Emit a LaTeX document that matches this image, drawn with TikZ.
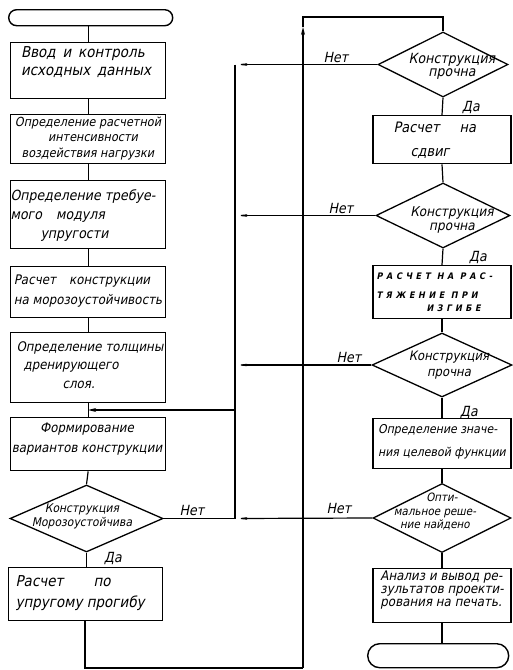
\documentclass[tikz,border=0pt]{standalone}
\usepackage{fontspec}
\setmainfont{DejaVu Sans}[FakeStretch=0.9,FakeSlant=0.2]
\usetikzlibrary{shapes.geometric,arrows.meta}
\newcommand{\fsz}[2]{\fontsize{#1}{#2}\selectfont}
\begin{document}
\begin{tikzpicture}[x=1pt,y=-1pt,line width=1.2pt,
  box/.style={draw,line width=1.3pt,inner sep=0pt,anchor=north west},
  rbox/.style={draw,line width=1.3pt,inner sep=0pt,anchor=north,minimum width=138pt},
  dia/.style={draw,diamond,line width=1.3pt,inner sep=0pt},
  term/.style={draw,line width=1.4pt,inner sep=0pt,anchor=north west},
  txt/.style={inner sep=0pt},
  lab/.style={inner sep=0pt,font=\fsz{14}{14}},
  arr/.style={-{Stealth[length=18pt,width=3.6pt]}},
  arrs/.style={-{Stealth[length=8pt,width=4pt]}}]
\useasboundingbox (0,0) rectangle (512,670);
% left column
\node[term,minimum width=164pt,minimum height=16pt,rounded corners=8pt] (st) at (8,9) {};
\node[box,minimum width=155pt,minimum height=56pt] (b1) at (10,42) {};
\node[box,minimum width=155pt,minimum height=49pt] (b2) at (10,114) {};
\node[box,minimum width=155pt,minimum height=68pt] (b3) at (10,180) {};
\node[box,minimum width=155pt,minimum height=51pt] (b4) at (10,266) {};
\node[box,minimum width=155pt,minimum height=70pt] (b5) at (10,332) {};
\node[box,minimum width=155pt,minimum height=53pt] (b6) at (10,417) {};
\node[dia,minimum width=153pt,minimum height=67pt] (dL) at (86.5,518.5) {};
\node[box,minimum width=154pt,minimum height=53pt] (b8) at (8,567) {};
% texts left
\node[txt,align=left,font=\fsz{15}{17.5}] (b1t) at (86,62) {Ввод\, и\, контроль\\исходных\, данных};
\node[txt,align=center,font=\fsz{12.5}{15.5}] (b2t) at (88,138.5) {Определение расчетной\\\hspace*{10pt}интенсивности\\воздействия нагрузки};
\node[txt,align=left,font=\fsz{14}{19}] (b3t) at (83,216) {Определение требуе-\\мого\quad модуля\\\hspace*{30pt}упругости};
\node[txt,align=left,font=\fsz{13.2}{20}] (b4t) at (88,291) {Расчет\quad конструкции\\на морозоустойчивость};
\node[txt,align=left,font=\fsz{13.2}{18.5}] (b5t) at (90,365) {Определение толщины\\\hspace*{7pt}дренирующего\\\hspace*{46pt}слоя.};
\node[txt,align=center,font=\fsz{13.2}{20}] (b6t) at (87,439) {Формирование\\вариантов конструкции};
\node[txt,align=center,font=\fsz{12}{14}] (dLt) at (82,516) {Конструкция\\Морозоустойчива};
\node[txt,align=left,anchor=west,font=\fsz{15}{21}] (b8t) at (15,593) {Расчет\hspace{30pt}по\\упругому прогибу};
% right column
\node[dia,minimum width=130pt,minimum height=65pt] (d1) at (443,64.5) {};
\node[rbox,minimum height=48pt] (r1) at (442,115) {};
\node[dia,minimum width=134pt,minimum height=65pt] (d2) at (443,215.5) {};
\node[rbox,minimum height=53pt] (r2) at (442,265) {};
\node[dia,minimum width=140pt,minimum height=64pt] (d3) at (442,365) {};
\node[rbox,minimum height=50pt] (r3) at (442,418) {};
\node[dia,minimum width=138pt,minimum height=69pt] (d4) at (442,518) {};
\node[rbox,minimum height=54pt] (r4) at (442,568) {};
\node[term,minimum width=141pt,minimum height=24pt,rounded corners=12pt] (en) at (367,643) {};
% texts right
\node[txt,align=center,font=\fsz{14}{13}] (d1t) at (452,66) {Конструкция\\прочна};
\node[txt,align=left,anchor=west,font=\fsz{14.4}{24}] (r1t) at (393,140) {Расчет\hspace{20pt}на\\\hspace*{17pt}сдвиг};
\node[txt,align=center,font=\fsz{13.5}{14}] (d2t) at (452,220) {Конструкция\\прочна};
\node[txt,align=left,anchor=north west,font=\bfseries\fsz{9}{19}\addfontfeature{LetterSpace=40}] (r2t) at (376,272) {РАСЧЕТ НА РАС-\\ТЯЖЕНИЕ ПРИ\\[-6pt]\hspace*{50pt}ИЗГИБЕ};
\node[txt,align=center,font=\fsz{13}{16}] (d3t) at (449,365) {Конструкция\\прочна};
\node[txt,align=left,font=\fsz{12.2}{23}] (r3t) at (442,442) {Определение значе-\\ния целевой функции};
\node[txt,align=center,font=\fsz{11.5}{13.5}] (d4t) at (435,512) {\hspace*{14pt}Опти-\\мальное реше-\\ние найдено};
\node[txt,align=left,font=\fsz{13.2}{13}] (r4t) at (442,590) {Анализ и вывод ре-\\зультатов проекти-\\рования на печать.};
% labels
\node[lab] (n1) at (336,57) {Нет};
\node[lab] (y1) at (471,107) {Да};
\node[lab] (n2) at (341,208) {Нет};
\node[lab] (y2) at (478,257) {Да};
\node[lab] (n3) at (349,357) {Нет};
\node[lab] (y3) at (469,412) {Да};
\node[lab] (n4) at (339,508) {Нет};
\node[lab] (nL) at (192,510) {Нет};
\node[lab] (yL) at (113,558) {Да};
% coordinates
\coordinate (vx) at (235,0);
\coordinate (wx) at (303,0);
\coordinate (j1) at (d1.west -| vx);
\coordinate (j2) at (d2.west -| vx);
\coordinate (j3) at (d3.west -| vx);
\coordinate (jL) at (dL.east -| vx);
\coordinate (jf) at (235,410);
\coordinate (cb) at (85,668);
\coordinate (cbr) at (wx |- cb);
\coordinate (ca) at (303,27);
\coordinate (ctl) at (303,17);
\coordinate (ctr) at (d1.north |- ctl);
% left connectors
\draw (b1.north) -- (b1.north |- st.south);
\draw (b1.south) -- (b2.north);
\draw (b2.south) -- (b3.north);
\draw (b3.south) -- (b4.north);
\draw (b4.south) -- (b5.north);
\draw (b5.south) -- (b6.north);
\draw (b6.south) -- (dL.north);
\draw (dL.south) -- (dL.south |- b8.north);
\draw (b8.south -| cb) -- (cb) -- (cbr);
\draw[arrs] (cbr) -- (ca);
\draw (ca) -- (ctl) -- (ctr) -- (d1.north);
% right connectors
\draw (d1.south) -- (r1.north);
\draw (r1.south) -- (d2.north);
\draw (d2.south) -- (r2.north);
\draw (r2.south) -- (d3.north);
\draw (d3.south) -- (r3.north);
\draw (r3.south) -- (d4.north);
\draw (d4.south) -- (r4.north);
\draw (r4.south) -- (r4.south |- en.north);
% return lines
\draw[arr] (d1.west) -- (j1);
\draw[arr] (d2.west) -- (j2);
\draw[arr] (d3.west) -- (j3);
\draw[arr] (d4.west) -- (jL);
\draw (dL.east) -- (jL);
\draw (j1) -- (jL);
\draw[arrs] (jf) -- (jf -| b6.north);
\end{tikzpicture}
\end{document}
